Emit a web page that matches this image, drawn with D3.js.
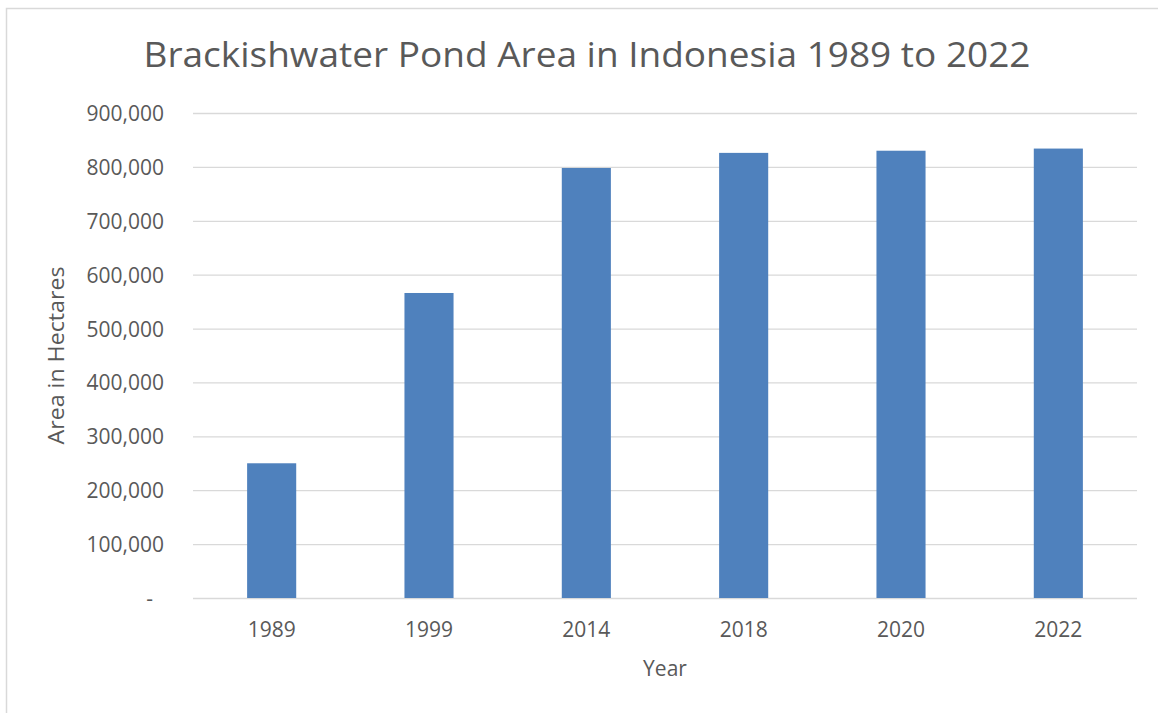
<!DOCTYPE html>
<html>
<head>
<meta charset="utf-8">
<script src="https://cdn.jsdelivr.net/npm/d3@7"></script>
<style>
  html, body { margin: 0; padding: 0; background: #ffffff; }
  svg { display: block; }
  text { font-family: "Open Sans", "Noto Sans", sans-serif; fill: #595959; }
</style>
</head>
<body>
<svg id="chart" width="1158" height="713"></svg>
<script>
const years = ["1989", "1999", "2014", "2018", "2020", "2022"];
const areas = [250000, 566000, 798000, 826000, 830000, 834000];
const yTicks = [0, 100000, 200000, 300000, 400000, 500000, 600000, 700000, 800000, 900000];
const titleText = "Brackishwater Pond Area in Indonesia 1989 to 2022";
const xTitle = "Year";
const yTitle = "Area in Hectares";

const svg = d3.select("#chart");
const W = 1158, H = 713;
const plot = { left: 193, right: 1137, top: 113, bottom: 598 };

svg.append("rect").attr("width", W).attr("height", H).attr("fill", "#fff");
// chart border
svg.append("rect")
  .attr("x", 6.5).attr("y", 8.5).attr("width", W + 20).attr("height", H + 20)
  .attr("fill", "none").attr("stroke", "#d9d9d9").attr("stroke-width", 1.5);

const x = d3.scaleBand().domain(years).range([plot.left, plot.right])
  .paddingInner(0.688).paddingOuter(0.344);
const y = d3.scaleLinear().domain([0, 900000]).range([plot.bottom, plot.top]);

const fmt = d3.format(",");

// gridlines
svg.append("g").selectAll("line").data(yTicks).join("line")
  .attr("x1", plot.left).attr("x2", plot.right)
  .attr("y1", d => y(d) + 0.5).attr("y2", d => y(d) + 0.5)
  .attr("stroke", "#d9d9d9").attr("stroke-width", d => d === 0 ? 1.5 : 1.3);

// y tick labels
svg.append("g").selectAll("text").data(yTicks).join("text")
  .attr("x", d => d === 0 ? 153 : 164)
  .attr("y", d => y(d) + 8)
  .attr("text-anchor", "end")
  .attr("font-size", 21)
  .text(d => d === 0 ? "-" : fmt(d));

// bars
svg.append("g").selectAll("rect").data(areas).join("rect")
  .attr("x", (d, i) => x(years[i]))
  .attr("width", x.bandwidth())
  .attr("y", d => y(d))
  .attr("height", d => y(0) - y(d))
  .attr("fill", "#4f81bd");

// x tick labels
svg.append("g").selectAll("text").data(years).join("text")
  .attr("x", d => x(d) + x.bandwidth() / 2)
  .attr("y", plot.bottom + 39)
  .attr("text-anchor", "middle")
  .attr("font-size", 21)
  .text(d => d);

// title
svg.append("text")
  .attr("x", 587).attr("y", 67)
  .attr("text-anchor", "middle")
  .attr("font-size", 34.5)
  .attr("textLength", 887).attr("lengthAdjust", "spacingAndGlyphs")
  .text(titleText);

// x axis title
svg.append("text")
  .attr("x", 665).attr("y", 676)
  .attr("text-anchor", "middle")
  .attr("font-size", 21)
  .text(xTitle);

// y axis title
svg.append("text")
  .attr("transform", "translate(64," + ((plot.top + plot.bottom) / 2) + ") rotate(-90)")
  .attr("text-anchor", "middle")
  .attr("font-size", 21)
  .attr("textLength", 178).attr("lengthAdjust", "spacingAndGlyphs")
  .text(yTitle);
</script>
</body>
</html>
